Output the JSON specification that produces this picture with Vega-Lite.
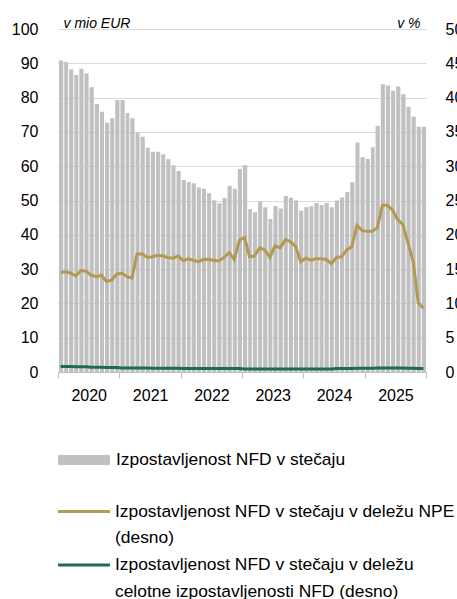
{
  "$schema": "https://vega.github.io/schema/vega-lite/v6.json",
  "width": 368,
  "height": 343,
  "autosize": "none",
  "padding": {"left": 58, "top": 29, "right": 31, "bottom": 227},
  "background": "white",
  "config": {
    "view": {"stroke": null},
    "font": "Liberation Sans",
    "axis": {"labelFont": "Liberation Sans", "labelFontSize": 16, "labelColor": "#000", "titleFont": "Liberation Sans"},
    "legend": {"labelFont": "Liberation Sans", "labelFontSize": 17.4, "labelColor": "#000", "labelLimit": 420, "padding": 0, "title": null}
  },
  "data": {"values": [
    {"date": "2020-01-01", "expo": 90.8, "npe": 14.5, "tot": 0.8},
    {"date": "2020-02-01", "expo": 90.4, "npe": 14.6, "tot": 0.8},
    {"date": "2020-03-01", "expo": 88.2, "npe": 14.4, "tot": 0.8},
    {"date": "2020-04-01", "expo": 86.6, "npe": 14.0, "tot": 0.75},
    {"date": "2020-05-01", "expo": 88.4, "npe": 14.8, "tot": 0.75},
    {"date": "2020-06-01", "expo": 87.1, "npe": 14.7, "tot": 0.75},
    {"date": "2020-07-01", "expo": 83.0, "npe": 14.1, "tot": 0.7},
    {"date": "2020-08-01", "expo": 78.1, "npe": 13.9, "tot": 0.7},
    {"date": "2020-09-01", "expo": 75.9, "npe": 14.1, "tot": 0.7},
    {"date": "2020-10-01", "expo": 72.7, "npe": 13.2, "tot": 0.65},
    {"date": "2020-11-01", "expo": 74.0, "npe": 13.4, "tot": 0.65},
    {"date": "2020-12-01", "expo": 79.3, "npe": 14.3, "tot": 0.65},
    {"date": "2021-01-01", "expo": 79.3, "npe": 14.4, "tot": 0.6},
    {"date": "2021-02-01", "expo": 75.5, "npe": 13.9, "tot": 0.6},
    {"date": "2021-03-01", "expo": 74.0, "npe": 13.7, "tot": 0.6},
    {"date": "2021-04-01", "expo": 69.8, "npe": 17.2, "tot": 0.6},
    {"date": "2021-05-01", "expo": 68.6, "npe": 17.2, "tot": 0.6},
    {"date": "2021-06-01", "expo": 65.4, "npe": 16.7, "tot": 0.6},
    {"date": "2021-07-01", "expo": 64.2, "npe": 16.8, "tot": 0.55},
    {"date": "2021-08-01", "expo": 64.2, "npe": 17.0, "tot": 0.55},
    {"date": "2021-09-01", "expo": 63.5, "npe": 16.9, "tot": 0.55},
    {"date": "2021-10-01", "expo": 62.0, "npe": 16.7, "tot": 0.55},
    {"date": "2021-11-01", "expo": 60.3, "npe": 16.6, "tot": 0.55},
    {"date": "2021-12-01", "expo": 58.6, "npe": 16.9, "tot": 0.55},
    {"date": "2022-01-01", "expo": 56.0, "npe": 16.2, "tot": 0.5},
    {"date": "2022-02-01", "expo": 55.4, "npe": 16.5, "tot": 0.5},
    {"date": "2022-03-01", "expo": 55.0, "npe": 16.3, "tot": 0.5},
    {"date": "2022-04-01", "expo": 53.8, "npe": 16.1, "tot": 0.5},
    {"date": "2022-05-01", "expo": 53.4, "npe": 16.4, "tot": 0.5},
    {"date": "2022-06-01", "expo": 52.1, "npe": 16.4, "tot": 0.5},
    {"date": "2022-07-01", "expo": 50.1, "npe": 16.3, "tot": 0.5},
    {"date": "2022-08-01", "expo": 49.2, "npe": 16.2, "tot": 0.5},
    {"date": "2022-09-01", "expo": 50.7, "npe": 16.7, "tot": 0.5},
    {"date": "2022-10-01", "expo": 54.3, "npe": 17.4, "tot": 0.5},
    {"date": "2022-11-01", "expo": 53.4, "npe": 16.4, "tot": 0.5},
    {"date": "2022-12-01", "expo": 59.2, "npe": 19.2, "tot": 0.5},
    {"date": "2023-01-01", "expo": 60.3, "npe": 19.6, "tot": 0.45},
    {"date": "2023-02-01", "expo": 47.5, "npe": 16.8, "tot": 0.45},
    {"date": "2023-03-01", "expo": 46.6, "npe": 16.9, "tot": 0.45},
    {"date": "2023-04-01", "expo": 49.7, "npe": 18.1, "tot": 0.45},
    {"date": "2023-05-01", "expo": 48.0, "npe": 17.8, "tot": 0.45},
    {"date": "2023-06-01", "expo": 44.6, "npe": 16.7, "tot": 0.45},
    {"date": "2023-07-01", "expo": 48.4, "npe": 18.4, "tot": 0.45},
    {"date": "2023-08-01", "expo": 47.7, "npe": 18.1, "tot": 0.45},
    {"date": "2023-09-01", "expo": 51.3, "npe": 19.3, "tot": 0.45},
    {"date": "2023-10-01", "expo": 50.8, "npe": 19.0, "tot": 0.45},
    {"date": "2023-11-01", "expo": 50.0, "npe": 18.3, "tot": 0.45},
    {"date": "2023-12-01", "expo": 47.0, "npe": 16.1, "tot": 0.45},
    {"date": "2024-01-01", "expo": 48.0, "npe": 16.6, "tot": 0.45},
    {"date": "2024-02-01", "expo": 48.3, "npe": 16.3, "tot": 0.45},
    {"date": "2024-03-01", "expo": 49.3, "npe": 16.5, "tot": 0.45},
    {"date": "2024-04-01", "expo": 48.7, "npe": 16.5, "tot": 0.45},
    {"date": "2024-05-01", "expo": 49.3, "npe": 16.4, "tot": 0.45},
    {"date": "2024-06-01", "expo": 48.0, "npe": 15.8, "tot": 0.45},
    {"date": "2024-07-01", "expo": 50.0, "npe": 16.7, "tot": 0.5},
    {"date": "2024-08-01", "expo": 50.9, "npe": 16.8, "tot": 0.5},
    {"date": "2024-09-01", "expo": 52.5, "npe": 17.8, "tot": 0.5},
    {"date": "2024-10-01", "expo": 55.3, "npe": 18.3, "tot": 0.5},
    {"date": "2024-11-01", "expo": 66.9, "npe": 21.4, "tot": 0.55},
    {"date": "2024-12-01", "expo": 62.6, "npe": 20.6, "tot": 0.55},
    {"date": "2025-01-01", "expo": 62.1, "npe": 20.5, "tot": 0.55},
    {"date": "2025-02-01", "expo": 65.5, "npe": 20.5, "tot": 0.55},
    {"date": "2025-03-01", "expo": 71.8, "npe": 21.0, "tot": 0.6},
    {"date": "2025-04-01", "expo": 83.9, "npe": 24.3, "tot": 0.6},
    {"date": "2025-05-01", "expo": 83.5, "npe": 24.3, "tot": 0.6},
    {"date": "2025-06-01", "expo": 82.0, "npe": 23.6, "tot": 0.6},
    {"date": "2025-07-01", "expo": 83.2, "npe": 22.2, "tot": 0.6},
    {"date": "2025-08-01", "expo": 81.0, "npe": 21.5, "tot": 0.6},
    {"date": "2025-09-01", "expo": 77.3, "npe": 18.8, "tot": 0.55},
    {"date": "2025-10-01", "expo": 74.4, "npe": 16.1, "tot": 0.55},
    {"date": "2025-11-01", "expo": 71.5, "npe": 10.1, "tot": 0.5},
    {"date": "2025-12-01", "expo": 71.5, "npe": 9.3, "tot": 0.5}
  ]},
  "encoding": {
    "x": {
      "field": "date", "type": "temporal", "timeUnit": "utcyearmonth",
      "scale": {"domain": [{"year": 2020, "month": 1, "date": 1, "utc": true}, {"year": 2026, "month": 1, "date": 1, "utc": true}], "nice": false},
      "axis": {
        "title": null, "grid": false, "format": "%Y",
        "values": [
          {"year": 2020, "month": 1, "date": 1, "utc": true},
          {"year": 2021, "month": 1, "date": 1, "utc": true},
          {"year": 2022, "month": 1, "date": 1, "utc": true},
          {"year": 2023, "month": 1, "date": 1, "utc": true},
          {"year": 2024, "month": 1, "date": 1, "utc": true},
          {"year": 2025, "month": 1, "date": 1, "utc": true},
          {"year": 2026, "month": 1, "date": 1, "utc": true}
        ],
        "labelExpr": "datum.label == '2026' ? '' : datum.label",
        "labelOffset": 30.7, "labelFlush": false, "labelBound": false, "labelOverlap": false,
        "labelPadding": 9, "tickSize": 6, "tickColor": "#bfbfbf", "domainColor": "#bfbfbf", "domainWidth": 1
      }
    }
  },
  "layer": [
    {
      "mark": {"type": "bar", "color": "#c0c0c0", "timeUnitBandSize": 0.68},
      "encoding": {
        "y": {
          "field": "expo", "type": "quantitative",
          "scale": {"domain": [0, 100], "nice": false},
          "axis": {
            "values": [0, 10, 20, 30, 40, 50, 60, 70, 80, 90, 100],
            "grid": true, "gridColor": "#d9d9d9", "gridWidth": 1.2, "ticks": false, "domain": false, "labelPadding": 20,
            "title": "v mio EUR", "titleAngle": 0, "titleAlign": "left", "titleBaseline": "alphabetic",
            "titleX": 5, "titleY": -2, "titleFontSize": 14, "titleFontStyle": "italic", "titleFontWeight": "normal", "titleColor": "#000"
          }
        },
        "fill": {
          "datum": "Izpostavljenost NFD v stečaju", "type": "nominal",
          "scale": {"range": ["#c0c0c0"]},
          "legend": {"orient": "none", "legendX": 13, "legendY": 418, "symbolType": "M-2,-0.385H2V0.385H-2Z", "symbolSize": 676, "symbolStrokeWidth": 0, "labelOffset": 19}
        }
      }
    },
    {
      "transform": [{"fold": ["npe", "tot"], "as": ["series", "value"]}],
      "mark": {"type": "line", "strokeWidth": 3, "interpolate": "linear"},
      "encoding": {
        "x": {"field": "date", "type": "temporal", "timeUnit": "utcyearmonth", "bandPosition": 0.5},
        "y": {
          "field": "value", "type": "quantitative",
          "scale": {"domain": [0, 50], "nice": false},
          "axis": {
            "orient": "right", "values": [0, 5, 10, 15, 20, 25, 30, 35, 40, 45, 50],
            "grid": false, "ticks": false, "domain": false, "labelPadding": 19,
            "title": "v %", "titleAngle": 0, "titleAlign": "right", "titleBaseline": "alphabetic",
            "titleX": -6, "titleY": -2, "titleFontSize": 14, "titleFontStyle": "italic", "titleFontWeight": "normal", "titleColor": "#000"
          }
        },
        "stroke": {
          "field": "series", "type": "nominal",
          "scale": {"domain": ["npe", "npe2", "tot", "tot2"], "range": ["#b39a52", "transparent", "#1f6b4f", "transparent"]},
          "legend": {
            "orient": "none", "legendX": 11.5, "legendY": 468, "symbolType": "M-2,0L2,0", "symbolSize": 676, "symbolStrokeWidth": 3, "labelOffset": 16.5, "rowPadding": 3.7,
            "labelExpr": "datum.value == 'npe' ? 'Izpostavljenost NFD v stečaju v deležu NPE' : datum.value == 'npe2' ? '(desno)' : datum.value == 'tot' ? 'Izpostavljenost NFD v stečaju v deležu' : 'celotne izpostavljenosti NFD (desno)'"
          }
        }
      }
    }
  ],
  "resolve": {"scale": {"y": "independent"}}
}
